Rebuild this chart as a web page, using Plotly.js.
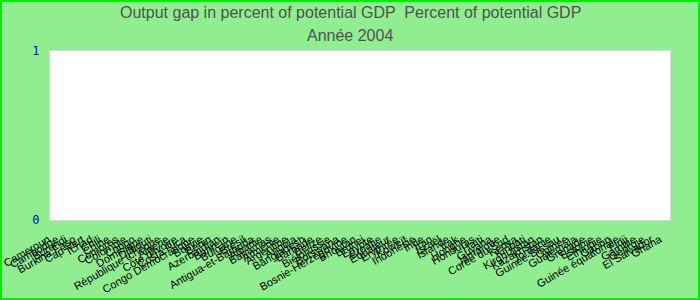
<!DOCTYPE html>
<html>
<head>
<meta charset="utf-8">
<script src="https://cdn.plot.ly/plotly-3.0.1.min.js"></script>
<style>
  html, body { margin: 0; padding: 0; background: #90EE90; }
  #wrap { position: relative; width: 700px; height: 300px; }
  #chart { width: 700px; height: 300px; }
  #frame { position: absolute; left: 0; top: 0; width: 700px; height: 300px; box-sizing: border-box; border: 2px solid #00EE00; pointer-events: none; }
</style>
</head>
<body>
<div id="wrap"><div id="chart"></div><div id="frame"></div></div>
<script>
// Categories (countries)
const countries = [
  "Cameroun", "Cambodge", "Burundi", "Burkina Faso", "Cap-Vert", "Tchad", "Chili", "Chine",
  "Comores", "Colombie", "Congo", "Dominique", "Djibouti", "République tchèque", "Algérie",
  "Côte d'Ivoire", "Costa Rica", "Congo Démocratique", "Bolivie", "Bénin", "Azerbaïdjan",
  "Bahreïn", "Bulgarie", "Brésil", "Antigua-et-Barbuda", "Albanie", "Bahamas", "Arménie",
  "Argentine", "Angola", "Bangladesh", "Barbade", "Belize", "Biélorussie", "Botswana",
  "Bosnie-Herzégovine", "Bhoutan", "Brunei", "Égypte", "Croatie", "Équateur", "Érythrée",
  "Koweït", "Indonésie", "Inde", "Iran", "Israël", "Islande", "Irak", "Hongrie", "Honduras",
  "Haïti", "Guyana", "Jamaïque", "Corée du Sud", "Kenya", "Kiribati", "Kirghizistan",
  "Kazakhstan", "Jordanie", "Guinée-Bissau", "Guinée", "Guatemala", "Grenade", "Estonie",
  "Éthiopie", "Gabon", "Guinée équatoriale", "Fidji", "Gambie", "Géorgie", "El Salvador", "Ghana"
];
// Output gap values for 2004: no values are drawn in the reference (missing data)
const outputGap = countries.map(() => null);
const yTicks = [0, 1];
const titleLines = ["Output gap in percent of potential GDP  Percent of potential GDP", "Année 2004"];

const trace = {
  type: "bar",
  x: countries,
  y: outputGap,
  marker: { color: "#4472C4" },
  hoverinfo: "x+y"
};

const titleFont = { family: "Liberation Sans, Arial, sans-serif", size: 16, color: "#505050" };

const layout = {
  width: 700,
  height: 300,
  paper_bgcolor: "#90EE90",
  plot_bgcolor: "#FFFFFF",
  margin: { l: 50, r: 30, t: 51, b: 80, pad: 0 },
  showlegend: false,
  annotations: [
    { text: titleLines[0], xref: "paper", yref: "paper", x: 0.4839, y: 1.225, xanchor: "center", yanchor: "middle", showarrow: false, font: titleFont },
    { text: titleLines[1], xref: "paper", yref: "paper", x: 0.4839, y: 1.089, xanchor: "center", yanchor: "middle", showarrow: false, font: titleFont }
  ],
  xaxis: {
    type: "category",
    categoryorder: "array",
    categoryarray: countries,
    range: [-0.5, countries.length - 0.5],
    tickmode: "array",
    tickvals: countries,
    ticktext: countries,
    tickangle: -30,
    tickfont: { family: "Liberation Sans, Arial, sans-serif", size: 11, color: "#000000" },
    ticklabelshift: -6,
    ticklabelstandoff: 8,
    showgrid: false,
    zeroline: false,
    showline: true,
    mirror: true,
    linecolor: "#D8D8D8",
    linewidth: 1,
    ticks: "",
    automargin: false
  },
  yaxis: {
    range: [0, 1],
    tickmode: "array",
    tickvals: yTicks,
    ticktext: yTicks.map(String),
    tickfont: { family: "DejaVu Sans Mono, monospace", size: 12, color: "#0000CC" },
    showgrid: false,
    zeroline: false,
    showline: true,
    mirror: true,
    linecolor: "#D8D8D8",
    linewidth: 1,
    ticks: "",
    ticklabelstandoff: 7,
    automargin: false
  }
};

Plotly.newPlot("chart", [trace], layout, { displayModeBar: false, staticPlot: true });
</script>
</body>
</html>
